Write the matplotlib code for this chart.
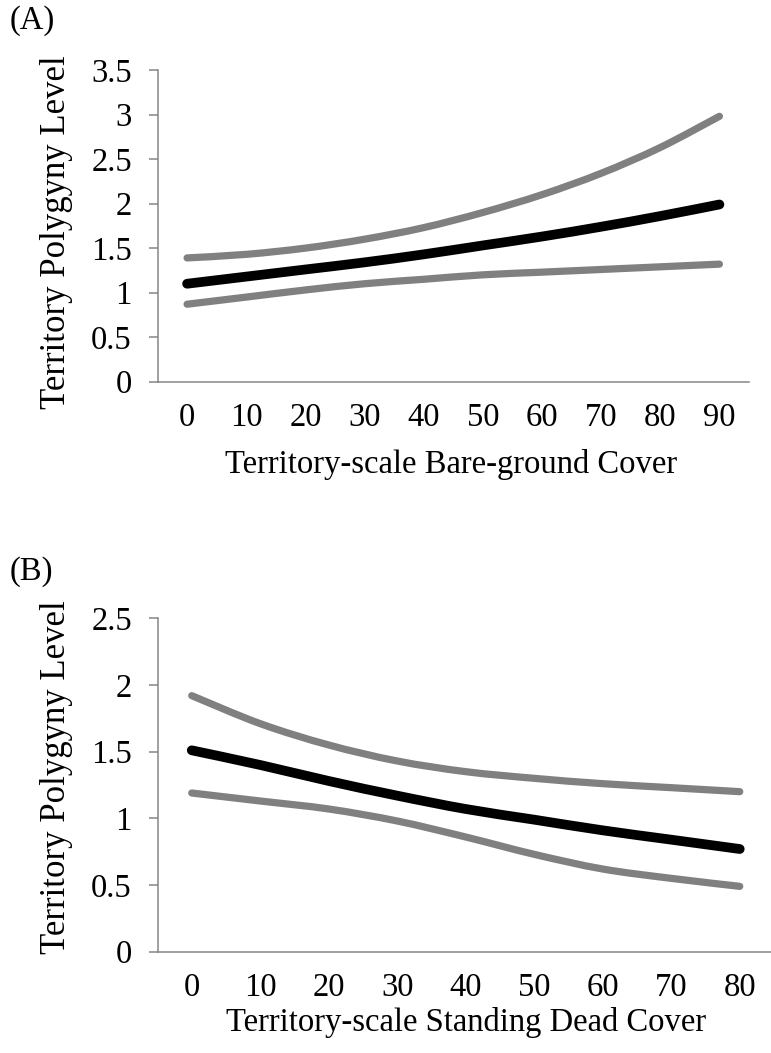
import matplotlib
matplotlib.use("Agg")
import matplotlib.pyplot as plt
from matplotlib.path import Path
from matplotlib.patches import PathPatch
import numpy as np

plt.rcParams['font.family'] = ['Liberation Serif', 'DejaVu Serif']

# Panel A: bare-ground cover
bare_cover = [0, 10, 20, 30, 40, 50, 60, 70, 80, 90]
bare_fit = [1.10, 1.18, 1.26, 1.34, 1.43, 1.53, 1.63, 1.74, 1.86, 1.99]
bare_upper = [1.39, 1.43, 1.50, 1.60, 1.73, 1.90, 2.10, 2.34, 2.63, 2.98]
bare_lower = [0.87, 0.95, 1.03, 1.10, 1.15, 1.20, 1.23, 1.26, 1.29, 1.32]

# Panel B: standing dead cover
dead_cover = [0, 10, 20, 30, 40, 50, 60, 70, 80]
dead_fit = [1.51, 1.40, 1.28, 1.17, 1.07, 0.99, 0.91, 0.84, 0.77]
dead_upper = [1.92, 1.71, 1.55, 1.43, 1.35, 1.30, 1.26, 1.23, 1.20]
dead_lower = [1.19, 1.13, 1.07, 0.98, 0.86, 0.73, 0.62, 0.55, 0.49]

yticks_a = [0, 0.5, 1, 1.5, 2, 2.5, 3, 3.5]
yticks_b = [0, 0.5, 1, 1.5, 2, 2.5]

AXIS_GRAY = '#868686'
BAND_GRAY = '#808080'
FS = 23.5
FS_YLAB = 25


def smooth_path(xs, ys):
    """Bezier path through the points, using Catmull-Rom style control points."""
    pts = np.column_stack([xs, ys]).astype(float)
    n = len(pts)
    verts = [pts[0]]
    codes = [Path.MOVETO]
    for i in range(n - 1):
        p0 = pts[i - 1] if i > 0 else pts[i]
        p1 = pts[i]
        p2 = pts[i + 1]
        p3 = pts[i + 2] if i + 2 < n else pts[i + 1]
        c1 = p1 + (p2 - p0) / 6.0
        c2 = p2 - (p3 - p1) / 6.0
        verts += [c1, c2, p2]
        codes += [Path.CURVE4] * 3
    return Path(verts, codes)


def draw_panel(ax, cover, fit, upper, lower, yticks, ymax):
    idx = np.arange(len(cover))
    for series, col, lw in ((upper, BAND_GRAY, 5.2), (lower, BAND_GRAY, 5.2), (fit, 'black', 7.0)):
        ax.add_patch(PathPatch(smooth_path(idx, series), fill=False, edgecolor=col,
                               linewidth=lw, capstyle='round', joinstyle='round'))
    ax.set_xlim(-0.5, len(cover) - 0.5)
    ax.set_ylim(0, ymax)
    ax.set_xticks(idx)
    ax.set_xticklabels([str(c) for c in cover], fontsize=FS)
    ax.set_yticks(yticks)
    ax.set_yticklabels([f'{t:g}' for t in yticks], fontsize=FS)
    for s in ('top', 'right'):
        ax.spines[s].set_visible(False)
    for s in ('left', 'bottom'):
        ax.spines[s].set_color(AXIS_GRAY)
        ax.spines[s].set_linewidth(1.1)
    ax.tick_params(axis='x', length=0, pad=15)
    ax.tick_params(axis='y', length=6.5, width=1.1, color=AXIS_GRAY, pad=12, direction='out')


W, H = 771, 1053
fig = plt.figure(figsize=(W / 100, H / 100), dpi=100)

ax1 = fig.add_axes([157.5 / W, 1 - 381.7 / H, (749 - 157.5) / W, (381.7 - 70) / H])
draw_panel(ax1, bare_cover, bare_fit, bare_upper, bare_lower, yticks_a, 3.5)

ax2 = fig.add_axes([157.5 / W, 1 - 951.7 / H, (774 - 157.5) / W, (951.7 - 618.3) / H])
draw_panel(ax2, dead_cover, dead_fit, dead_upper, dead_lower, yticks_b, 2.5)

fig.text(10 / W, 1 - 21 / H, '(A)', fontsize=FS, ha='left', va='center')
fig.text(10 / W, 1 - 572 / H, '(B)', fontsize=FS, ha='left', va='center')

fig.text(451 / W, 1 - 465 / H, 'Territory-scale Bare-ground Cover', fontsize=FS, ha='center', va='center')
fig.text(466 / W, 1 - 1023 / H, 'Territory-scale Standing Dead Cover', fontsize=FS, ha='center', va='center')

fig.text(57 / W, 1 - 232 / H, 'Territory Polygyny Level', fontsize=FS_YLAB, rotation=90, ha='center', va='center')
fig.text(57 / W, 1 - 777 / H, 'Territory Polygyny Level', fontsize=FS_YLAB, rotation=90, ha='center', va='center')

fig.savefig('out.png', dpi=100)
